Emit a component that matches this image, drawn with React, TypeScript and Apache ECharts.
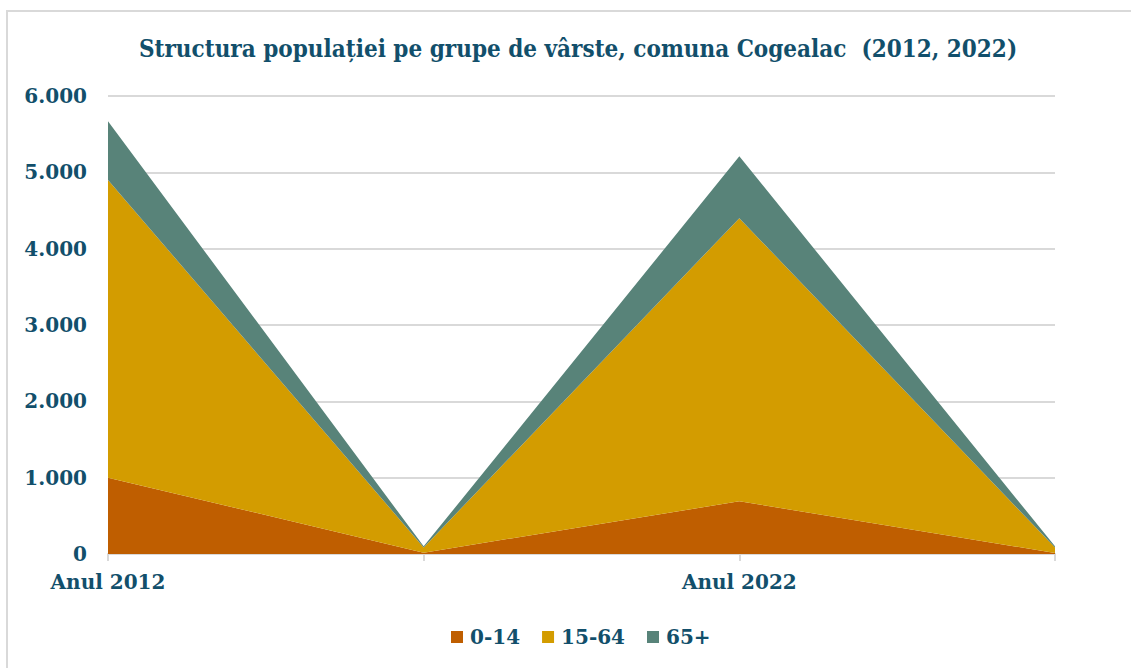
import React, { useEffect, useRef } from "react";
import * as echarts from "echarts";

const categories = ["Anul 2012", "", "Anul 2022", ""];
const age0to14 = [1000, 17.6, 690, 13.2];
const age15to64 = [3900, 68.8, 3710, 71.2];
const age65plus = [770, 13.6, 810, 15.6];
const yTicks = { min: 0, max: 6000, interval: 1000 };

const TEXT = "#124f6b";
const FONT = "'DejaVu Serif', serif";

export default function App() {
  const ref = useRef<HTMLDivElement>(null);
  useEffect(() => {
    if (!ref.current) return;
    const chart = echarts.init(ref.current, null, { renderer: "svg" });
    const fmt = (v: number) => String(v).replace(/\B(?=(\d{3})+(?!\d))/g, ".");
    const mk = (name: string, data: number[], color: string) => ({
      name,
      type: "line",
      stack: "total",
      data,
      showSymbol: false,
      symbol: "none",
      lineStyle: { width: 0 },
      areaStyle: { color, opacity: 1 },
      itemStyle: { color },
    });
    chart.setOption({
      animation: false,
      backgroundColor: "#ffffff",
      title: {
        text: "Structura populației pe grupe de vârste, comuna Cogealac  (2012, 2022)",
        left: 573,
        textAlign: "center",
        top: 31,
        textStyle: {
          fontFamily: "'DejaVu Serif Condensed', 'Liberation Serif', serif",
          fontWeight: "bold",
          fontSize: 24,
          color: TEXT,
        },
      },
      graphic: [
        {
          type: "rect",
          shape: { x: 7, y: 11, width: 1300, height: 800 },
          style: { fill: "none", stroke: "#d9d9d9", lineWidth: 2 },
          silent: true,
        },
      ],
      grid: { left: 108, right: 76, top: 96, bottom: 114, containLabel: false },
      legend: {
        data: ["0-14", "15-64", "65+"],
        bottom: 16,
        left: 446,
        icon: "rect",
        itemWidth: 12,
        itemHeight: 12,
        itemGap: 22,
        textStyle: { fontFamily: FONT, fontWeight: "bold", fontSize: 20, color: TEXT, padding: [0, 0, 0, 2] },
      },
      xAxis: {
        type: "category",
        data: categories,
        boundaryGap: false,
        axisLine: { show: true, lineStyle: { color: "#d9d9d9", width: 2 } },
        axisTick: { show: true, length: 7, lineStyle: { color: "#d9d9d9", width: 2 } },
        axisLabel: {
          interval: 0,
          margin: 18,
          fontFamily: FONT,
          fontWeight: "bold",
          fontSize: 20,
          color: TEXT,
        },
        splitLine: { show: false },
      },
      yAxis: {
        type: "value",
        min: yTicks.min,
        max: yTicks.max,
        interval: yTicks.interval,
        axisLine: { show: false },
        axisTick: { show: false },
        axisLabel: {
          margin: 21,
          fontFamily: FONT,
          fontWeight: "bold",
          fontSize: 20,
          color: TEXT,
          formatter: (v: number) => fmt(v),
        },
        splitLine: { lineStyle: { color: "#d9d9d9", width: 2 } },
      },
      series: [
        mk("0-14", age0to14, "#bf5e00"),
        mk("15-64", age15to64, "#d39c00"),
        mk("65+", age65plus, "#588379"),
      ],
    });
    return () => chart.dispose();
  }, []);
  return (
    <div
      ref={ref}
      style={{ position: "fixed", left: 0, top: 0, width: 1131, height: 668 }}
    />
  );
}
